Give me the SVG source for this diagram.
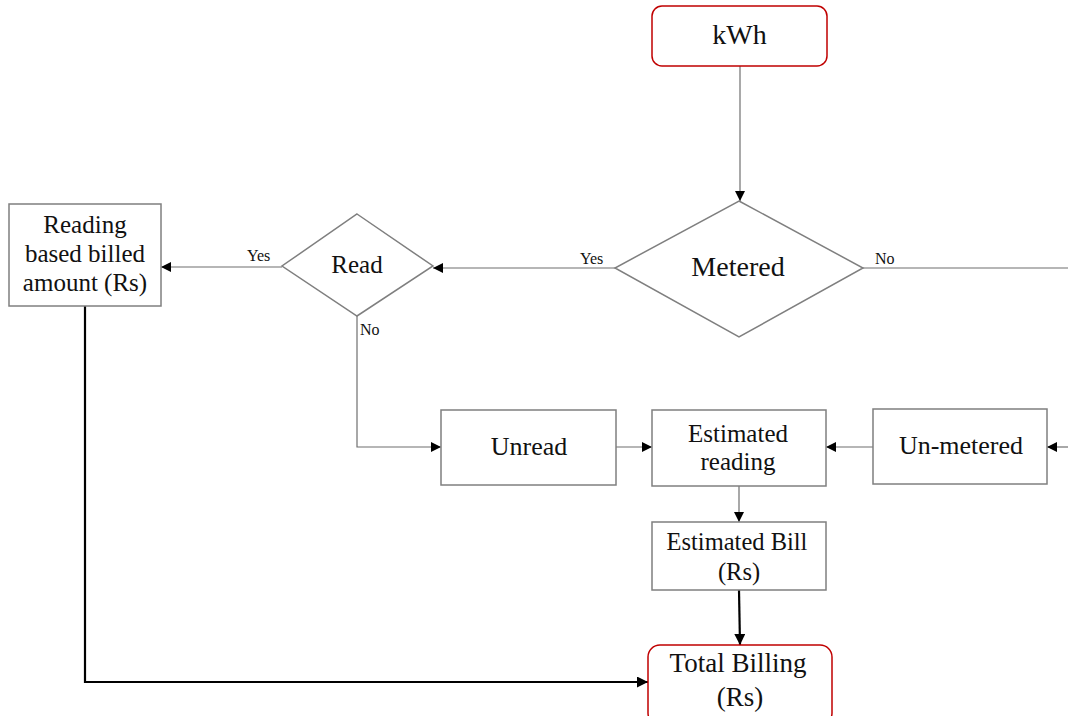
<svg xmlns="http://www.w3.org/2000/svg" width="1068" height="716" viewBox="0 0 1068 716">
<defs>
<style>
.box{fill:#fff;stroke:#7f7f7f;stroke-width:1.5}
.term{fill:#fff;stroke:#c00000;stroke-width:1.5}
.t{font-family:"Liberation Serif","DejaVu Serif",serif;fill:#111;text-anchor:middle}
.lbl{font-family:"Liberation Serif","DejaVu Serif",serif;fill:#111;font-size:16px}
.c{fill:none;stroke:#6f6f6f;stroke-width:1.2}
.k{fill:none;stroke:#000;stroke-width:2.2}
</style>
<marker id="a" viewBox="0 0 10 10" refX="10" refY="5" markerWidth="10" markerHeight="10" markerUnits="userSpaceOnUse" orient="auto">
<path d="M0,0 L10,5 L0,10 z" fill="#000"/>
</marker>
<marker id="ak" viewBox="0 0 10 10" refX="10" refY="5" markerWidth="11" markerHeight="11" markerUnits="userSpaceOnUse" orient="auto">
<path d="M0,0 L10,5 L0,10 z" fill="#000"/>
</marker>
</defs>
<g id="connectors">
<path class="c" d="M740,66 V201" marker-end="url(#a)"/>
<path class="c" d="M615,268 H433" marker-end="url(#a)"/>
<path class="c" d="M282,267 H161" marker-end="url(#a)"/>
<path class="c" d="M357,316 V447 H441" marker-end="url(#a)"/>
<path class="c" d="M616,447 H652" marker-end="url(#a)"/>
<path class="c" d="M873,447 H826" marker-end="url(#a)"/>
<path class="c" d="M863,268 H1068"/>
<path class="c" d="M1068,447 H1047" marker-end="url(#a)"/>
<path class="c" d="M739,486 V522" marker-end="url(#a)"/>
<path class="k" d="M739,590 L740,645" marker-end="url(#ak)"/>
<path class="k" d="M85,306 V682 H648" marker-end="url(#ak)"/>
<text class="lbl" x="580" y="264">Yes</text>
<text class="lbl" x="247" y="261">Yes</text>
<text class="lbl" x="875" y="264">No</text>
<text class="lbl" x="360" y="335">No</text>
</g>
<g id="kwh">
<rect class="term" x="652" y="6" width="175" height="60" rx="10"/>
<text class="t" x="739.5" y="44" font-size="28">kWh</text>
</g>
<g id="metered">
<polygon class="box" points="739,201 863,268 739,337 615,268"/>
<text class="t" x="738" y="276" font-size="28">Metered</text>
</g>
<g id="read">
<polygon class="box" points="357,214 433,266 357,316 282,266"/>
<text class="t" x="357" y="273" font-size="25">Read</text>
</g>
<g id="reading-billed">
<rect class="box" x="9" y="204" width="152" height="102"/>
<text class="t" x="85" y="233" font-size="25">Reading</text>
<text class="t" x="85" y="262" font-size="25">based billed</text>
<text class="t" x="85" y="291" font-size="25">amount (Rs)</text>
</g>
<g id="unread">
<rect class="box" x="441" y="410" width="175" height="75"/>
<text class="t" x="529" y="455" font-size="26">Unread</text>
</g>
<g id="estimated-reading">
<rect class="box" x="652" y="410" width="174" height="76"/>
<text class="t" x="738" y="442" font-size="25">Estimated</text>
<text class="t" x="738" y="470" font-size="25">reading</text>
</g>
<g id="unmetered">
<rect class="box" x="873" y="409" width="174" height="75"/>
<text class="t" x="961" y="454" font-size="26">Un-metered</text>
</g>
<g id="estimated-bill">
<rect class="box" x="652" y="522" width="174" height="68"/>
<text class="t" x="737" y="550" font-size="24.5">Estimated Bill</text>
<text class="t" x="739" y="580" font-size="24.5">(Rs)</text>
</g>
<g id="total-billing">
<rect class="term" x="648" y="645" width="184" height="80" rx="12"/>
<text class="t" x="738" y="672" font-size="27">Total Billing</text>
<text class="t" x="740" y="706" font-size="27">(Rs)</text>
</g>
</svg>
